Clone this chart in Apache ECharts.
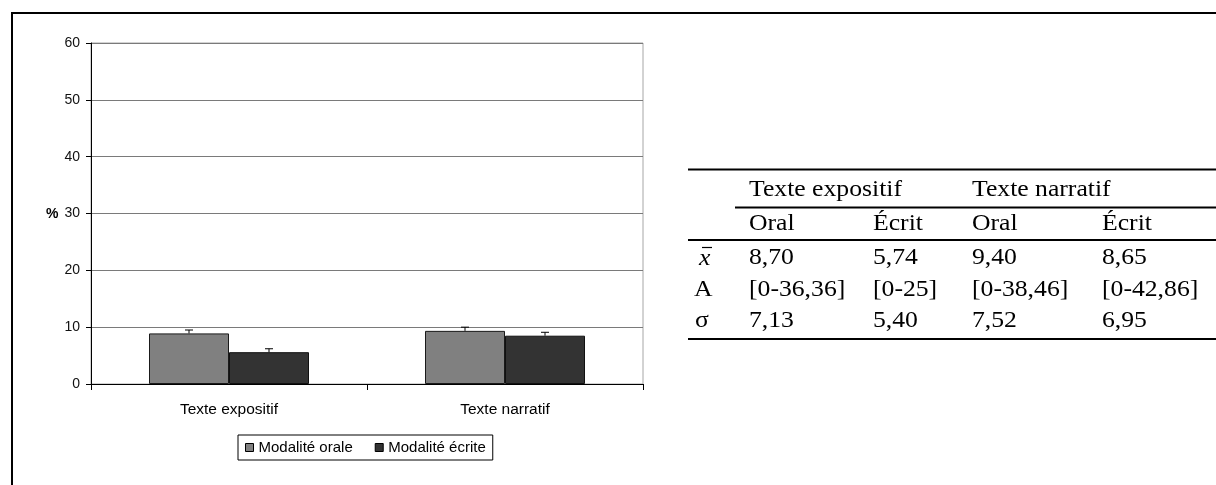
<!DOCTYPE html>
<html><head><meta charset="utf-8">
<script src="https://cdn.jsdelivr.net/npm/echarts@6/dist/echarts.min.js"></script>
<style>html,body{margin:0;padding:0;background:#fff}#c{width:1216px;height:485px}</style>
</head><body><div id="c"></div>
<script>
const categories = ['Texte expositif', 'Texte narratif'];
const seriesNames = ['Modalité orale', 'Modalité écrite'];
const oralValues = [8.9, 9.35];
const ecritValues = [5.6, 8.5];
const oralErrTop = [9.5, 10.0];
const ecritErrTop = [6.2, 9.1];
const yMin = 0, yMax = 60, yStep = 10;
const yName = '%';

const tableGroups = ['Texte expositif', 'Texte narratif'];
const tableSub = ['Oral', 'Écrit', 'Oral', 'Écrit'];
const rowLabels = ['x', 'A', 'σ'];
const rowMean = ['8,70', '5,74', '9,40', '8,65'];
const rowRange = ['[0-36,36]', '[0-25]', '[0-38,46]', '[0-42,86]'];
const rowSigma = ['7,13', '5,40', '7,52', '6,95'];

const SANS = 'Liberation Sans, Arial, sans-serif';
const SERIF = 'Liberation Serif, Times New Roman, serif';
const BAR_W = 80;

function errRender(sign) {
  return function (params, api) {
    const i = api.value(0);
    const base = api.coord([i, api.value(1)]);
    const top = api.coord([i, api.value(2)]);
    const x = base[0] + sign * BAR_W / 2;
    const s = { stroke: '#000', lineWidth: 1 };
    return { type: 'group', children: [
      { type: 'line', shape: { x1: x, y1: base[1], x2: x, y2: top[1] }, style: s },
      { type: 'line', shape: { x1: x - 4, y1: top[1], x2: x + 4, y2: top[1] }, style: s }
    ]};
  };
}

// table graphics
const colX = [749, 873, 972, 1102];
const groupX = [749, 972];
const TL = 688, TR = 1216;
const SX = 1.07;
const g = [];
function tx(text, x, y, extra) {
  g.push({ type: 'text', x: x, y: y, scaleX: SX, style: Object.assign({ text: text, font: '24px ' + SERIF, fill: '#000', verticalAlign: 'middle', align: 'left' }, extra || {}) });
}
function ln(x1, y, x2, w) {
  g.push({ type: 'line', shape: { x1: x1, y1: y, x2: x2, y2: y }, style: { stroke: '#000', lineWidth: w || 2 } });
}
ln(TL, 169.5, TR); ln(735, 207.5, TR); ln(TL, 240, TR); ln(TL, 339, TR);
tableGroups.forEach((t, i) => tx(t, groupX[i], 190));
tableSub.forEach((t, i) => tx(t, colX[i], 224));
const rowsY = [258, 290, 321];
tx(rowLabels[0], 699, rowsY[0] + 1, { font: 'italic 24px ' + SERIF });
g.push({ type: 'line', shape: { x1: 702, y1: 247.5, x2: 712, y2: 247.5 }, style: { stroke: '#000', lineWidth: 1.2 } });
tx(rowLabels[1], 694, rowsY[1]);
tx(rowLabels[2], 695, rowsY[2]);
[rowMean, rowRange, rowSigma].forEach((row, r) => row.forEach((t, i) => tx(t, colX[i], rowsY[r])));
// y axis name
g.push({ type: 'text', x: 46, y: 214, style: { text: yName, font: 'bold 14px ' + SANS, fill: '#000', verticalAlign: 'middle' } });
// outer frame
g.push({ type: 'rect', shape: { x: 12, y: 13, width: 1400, height: 700 }, style: { fill: 'none', stroke: '#000', lineWidth: 2 }, z: -1 });

const chart = echarts.init(document.getElementById('c'), null, { renderer: 'canvas' });
chart.setOption({
  animation: false,
  backgroundColor: '#fff',
  textStyle: { fontFamily: SANS },
  grid: { left: 91, top: 43, width: 552, height: 341, show: true, borderColor: '#a6a6a6', borderWidth: 1, backgroundColor: '#fff' },
  legend: {
    data: seriesNames, left: 238, top: 435, orient: 'horizontal',
    icon: 'rect', itemWidth: 8, itemHeight: 8, itemGap: 22,
    padding: [5, 7], borderColor: '#000', borderWidth: 1, backgroundColor: '#fff',
    itemStyle: { borderColor: '#000', borderWidth: 1 },
    textStyle: { fontSize: 15, color: '#000', fontFamily: SANS }
  },
  xAxis: {
    type: 'category', data: categories,
    axisLine: { lineStyle: { color: '#000', width: 1 } },
    axisTick: { show: true, length: 6, lineStyle: { color: '#000' } },
    axisLabel: { fontSize: 15.5, color: '#000', margin: 18, fontFamily: SANS },
    splitLine: { show: false }
  },
  yAxis: {
    type: 'value', min: yMin, max: yMax, interval: yStep,
    axisLine: { show: true, lineStyle: { color: '#000', width: 1 } },
    axisTick: { show: true, length: 5, lineStyle: { color: '#000' } },
    axisLabel: { fontSize: 14, color: '#111', margin: 11, fontFamily: SANS },
    splitLine: { lineStyle: { color: '#7a7a7a', width: 1 } }
  },
  series: [
    { name: seriesNames[0], type: 'bar', data: oralValues, barWidth: BAR_W, barGap: '0%',
      itemStyle: { color: '#808080', borderColor: '#1a1a1a', borderWidth: 1 } },
    { name: seriesNames[1], type: 'bar', data: ecritValues, barWidth: BAR_W, barGap: '0%',
      itemStyle: { color: '#333333', borderColor: '#111', borderWidth: 1 } },
    { name: 'errOral', type: 'custom', renderItem: errRender(-1), z: 5,
      data: oralValues.map((v, i) => [i, v, oralErrTop[i]]) },
    { name: 'errEcrit', type: 'custom', renderItem: errRender(1), z: 5,
      data: ecritValues.map((v, i) => [i, v, ecritErrTop[i]]) }
  ],
  graphic: g
});
</script>
</body></html>
